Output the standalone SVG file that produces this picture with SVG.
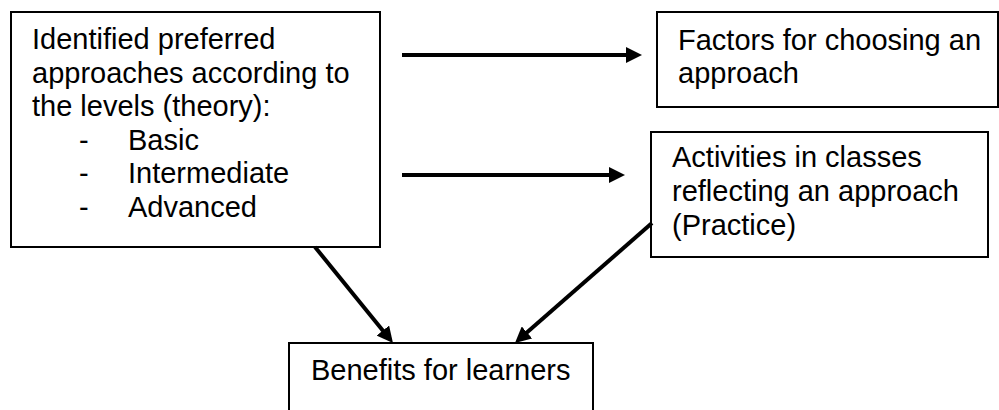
<svg xmlns="http://www.w3.org/2000/svg" width="999" height="410" viewBox="0 0 999 410">
<style>
.box{fill:#fff;stroke:#000;stroke-width:2}
.t{font-family:"Liberation Sans",Arial,sans-serif;font-size:29px;fill:#000}
.c{stroke:#000;stroke-width:4;fill:none}
</style>
<defs>
<marker id="ah" markerUnits="userSpaceOnUse" markerWidth="16" markerHeight="16" refX="4" refY="8" orient="auto" viewBox="0 0 16 16">
<path d="M0,0 L16,8 L0,16 z" fill="#000"/>
</marker>
</defs>
<rect width="999" height="410" fill="#fff"/>
<g id="theory">
<rect class="box" x="11" y="12" width="369" height="235"/>
<text class="t" x="32" y="49">Identified preferred</text>
<text class="t" x="32" y="83">approaches according to</text>
<text class="t" x="32" y="116">the levels (theory):</text>
<text class="t" x="79" y="150">-</text>
<text class="t" x="128" y="150">Basic</text>
<text class="t" x="79" y="183">-</text>
<text class="t" x="128" y="183">Intermediate</text>
<text class="t" x="79" y="217">-</text>
<text class="t" x="128" y="217">Advanced</text>
</g>
<g id="factors">
<rect class="box" x="657" y="12" width="341" height="95"/>
<text class="t" x="678" y="50">Factors for choosing an</text>
<text class="t" x="678" y="83">approach</text>
</g>
<g id="activities">
<rect class="box" x="651" y="132" width="337" height="125"/>
<text class="t" x="672" y="167">Activities in classes</text>
<text class="t" x="672" y="201">reflecting an approach</text>
<text class="t" x="672" y="235">(Practice)</text>
</g>
<g id="benefits">
<rect class="box" x="289" y="343" width="304" height="80"/>
<text class="t" x="311" y="380">Benefits for learners</text>
</g>
<g id="connectors">
<path class="c" d="M402,55 L630,55" marker-end="url(#ah)"/>
<path class="c" d="M402,175 L613,175" marker-end="url(#ah)"/>
<path class="c" d="M315,247 L385.4,333.7" marker-end="url(#ah)"/>
<path class="c" d="M652,223 L524,335.1" marker-end="url(#ah)"/>
</g>
</svg>
